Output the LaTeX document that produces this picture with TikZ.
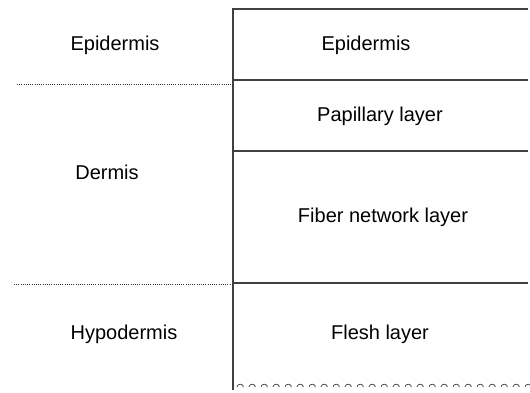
\documentclass[tikz,border=0pt]{standalone}
\usepackage{fontspec}
\setmainfont{Liberation Sans}
\usetikzlibrary{positioning}
\tikzset{
  layerline/.style={draw=black!75,line width=1.1pt},
  zoneline/.style={draw=black!80,line width=1pt,dash pattern=on 1pt off 1.2pt},
  lbl/.style={inner sep=0pt,font=\fontsize{20}{22}\selectfont}
}
\begin{document}
\begin{tikzpicture}[x=1pt,y=-1pt]
\useasboundingbox (0,0) rectangle (530,393);
% right column
\coordinate (tl) at (233,9);
\coordinate (tr) at (528,9);
\coordinate (bl) at (233,390);
\draw [layerline] (bl) -- (tl) -- (tr);
\draw [layerline] (233,80) coordinate (s1) -- (528,80);
\draw [layerline] (233,151) coordinate (s2) -- (528,151);
\draw [layerline] (233,283) coordinate (s3) -- (528,283);
\foreach \i in {0,...,24}
  \draw [black!70,line width=0.8pt] (237+12*\i,387) arc[start angle=180,end angle=0,x radius=3.2pt,y radius=2.8pt];
% left zones
\coordinate (d1) at (17,85);
\coordinate (d2) at (14,284);
\draw [zoneline] (d1) -- (d1 -| tl);
\draw [zoneline] (d2) -- (d2 -| tl);
\node [lbl] (epi) at (366,45) {Epidermis};
\node [lbl] (pap) at (380,116) {Papillary layer};
\node [lbl] (fib) at (383,217) {Fiber network layer};
\node [lbl] (fle) at (380,334) {Flesh layer};
\node [lbl] (epiz) at (115,45) {Epidermis};
\node [lbl] (derz) at (107,172) {Dermis};
\node [lbl] (hypz) at (124,334) {Hypodermis};
\end{tikzpicture}
\end{document}
